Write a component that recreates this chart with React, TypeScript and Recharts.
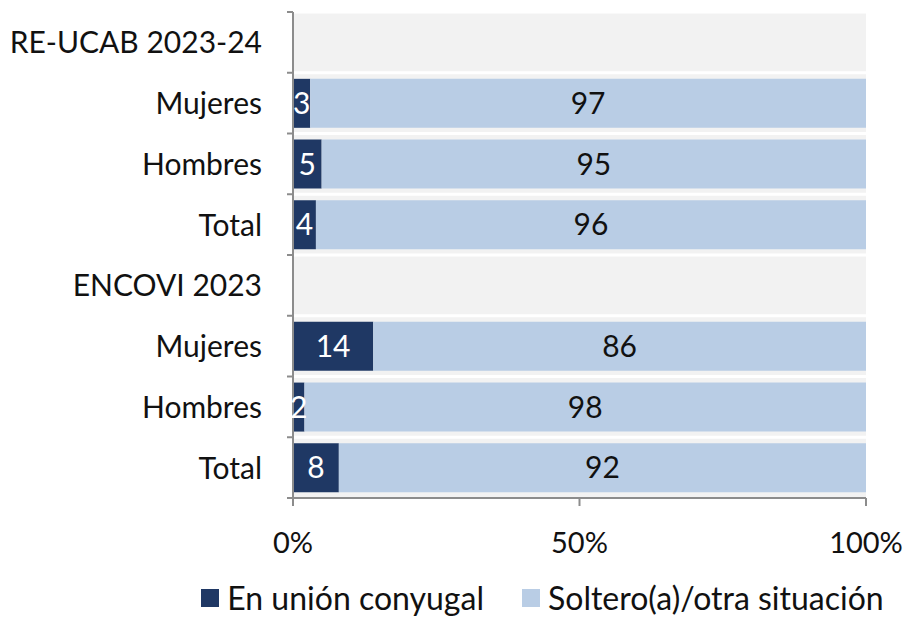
import React from "react";
import {
  BarChart,
  Bar,
  XAxis,
  YAxis,
  CartesianGrid,
  LabelList,
  Legend,
} from "recharts";

const categories = [
  "RE-UCAB 2023-24",
  "Mujeres",
  "Hombres",
  "Total",
  "ENCOVI 2023",
  "Mujeres",
  "Hombres",
  "Total",
];
const enUnion = [null, 3, 5, 4, null, 14, 2, 8];
const soltero = [null, 97, 95, 96, null, 86, 98, 92];
const xTicks = [0, 50, 100];

const data = categories.map((c, i) => ({
  id: `${i}`,
  name: c,
  union: enUnion[i],
  soltero: soltero[i],
}));

const DARK = "#1f3864";
const LIGHT = "#b9cde5";
const AXIS = "#8c8c8c";
const FONT = "Lato, 'Open Sans', sans-serif";

const W = 909;
const H = 619;
const TOP = 12;
const PLOT_BOTTOM = 498;
const BAND = (PLOT_BOTTOM - TOP) / categories.length;

const CatTick = (props: any) => {
  const { x, y, payload, index } = props;
  const last = index === categories.length - 1;
  return (
    <g>
      <text
        x={x - 31}
        y={y}
        dy={11}
        textAnchor="end"
        fill="#111"
        fontSize={30}
        fontFamily={FONT}
      >
        {categories[payload.value]}
      </text>
      <line x1={x - 6} x2={x} y1={y - BAND / 2} y2={y - BAND / 2} stroke={AXIS} strokeWidth={2} />
      {last && (
        <line x1={x - 6} x2={x} y1={y + BAND / 2} y2={y + BAND / 2} stroke={AXIS} strokeWidth={2} />
      )}
    </g>
  );
};

const LegendContent = () => {
  const items = [
    { label: "En unión conyugal", color: DARK },
    { label: "Soltero(a)/otra situación", color: LIGHT },
  ];
  return (
    <div
      style={{
        display: "flex",
        justifyContent: "center",
        gap: 38,
        fontFamily: FONT,
        fontSize: 32,
        color: "#111",
        paddingLeft: 176,
        paddingTop: 10,
        width: W,
        boxSizing: "border-box",
      }}
    >
      {items.map((it) => (
        <div key={it.label} style={{ display: "flex", alignItems: "center", gap: 8 }}>
          <span style={{ width: 18, height: 18, background: it.color, display: "inline-block" }} />
          <span>{it.label}</span>
        </div>
      ))}
    </div>
  );
};

export default function App() {
  return (
    <div style={{ position: "absolute", left: 0, top: 0, width: W, height: H, background: "#fff" }}>
      <BarChart
        width={W}
        height={H}
        data={data}
        layout="vertical"
        margin={{ top: TOP, right: 43, left: 0, bottom: 0 }}
        barCategoryGap="10%"
      >
        <CartesianGrid
          fill="#f2f2f2"
          stroke="#ffffff"
          strokeWidth={3}
          vertical={false}
          horizontalCoordinatesGenerator={({ offset }: any) =>
            categories.map((_, i) => offset.top + (i * offset.height) / categories.length)
          }
        />
        <XAxis
          type="number"
          domain={[0, 100]}
          ticks={xTicks}
          tickFormatter={(v) => `${v}%`}
          axisLine={{ stroke: AXIS, strokeWidth: 2 }}
          tickLine={{ stroke: AXIS, strokeWidth: 2 }}
          tickSize={8}
          tickMargin={26}
          height={70}
          tick={{ fill: "#111", fontSize: 29, fontFamily: FONT }}
        />
        <YAxis
          type="category"
          dataKey="id"
          width={293}
          axisLine={{ stroke: AXIS, strokeWidth: 2 }}
          tickLine={false}
          tickSize={0}
          tickMargin={0}
          interval={0}
          tick={<CatTick />}
        />
        <Legend verticalAlign="bottom" height={51} content={<LegendContent />} />
        <Bar dataKey="union" stackId="a" fill={DARK} isAnimationActive={false}>
          <LabelList
            dataKey="union"
            position="center"
            fill="#ffffff"
            fontSize={30}
            fontFamily={FONT}
          />
        </Bar>
        <Bar dataKey="soltero" stackId="a" fill={LIGHT} isAnimationActive={false}>
          <LabelList
            dataKey="soltero"
            position="center"
            fill="#111"
            fontSize={30}
            fontFamily={FONT}
          />
        </Bar>
      </BarChart>
    </div>
  );
}
